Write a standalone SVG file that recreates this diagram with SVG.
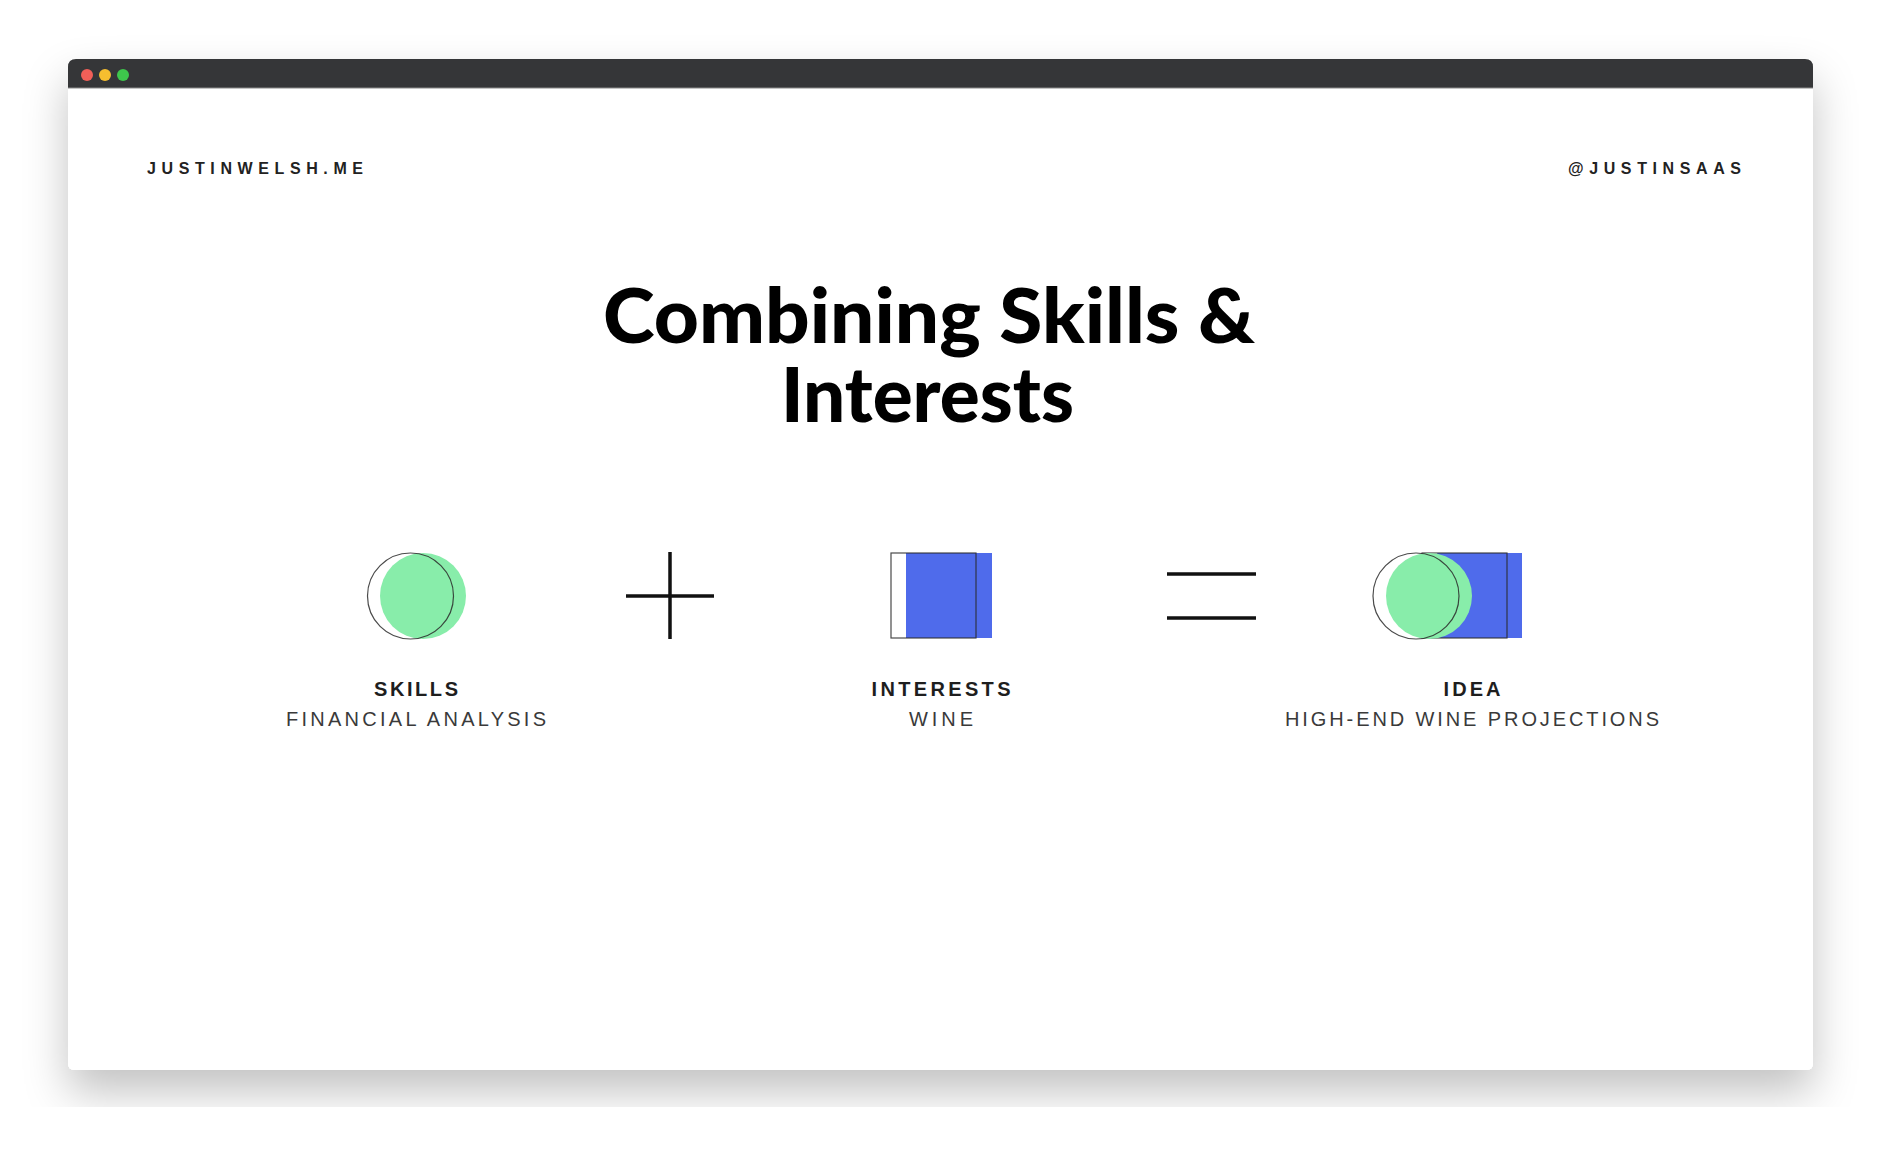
<svg xmlns="http://www.w3.org/2000/svg" width="1888" height="1152" viewBox="0 0 1888 1152">
  <defs>
    <filter id="shadow" x="-10%" y="-10%" width="120%" height="130%">
      <feDropShadow dx="0" dy="22" stdDeviation="22" flood-color="#000" flood-opacity="0.24"/>
    </filter>
    <clipPath id="pageClip">
      <rect x="0" y="0" width="1888" height="1107"/>
    </clipPath>
    <style>
      .hdr { font-family: "Liberation Sans", Arial, sans-serif; font-size: 16px; font-weight: bold; fill: #222; }
      .title { font-family: Lato, "Liberation Sans", sans-serif; font-size: 77px; font-weight: 900; fill: #000; }
      .lbl { font-family: "Liberation Sans", Arial, sans-serif; font-size: 20px; font-weight: bold; fill: #1e1e1e; }
      .sub { font-family: "Liberation Sans", Arial, sans-serif; font-size: 20px; fill: #3a3a3a; }
      .outline { fill: none; stroke: #2a2a2a; stroke-width: 1.2; stroke-opacity: 0.85; }
      .green { fill: #88EDAA; }
      .blue { fill: #4F6BEB; }
      .op { stroke: #111; stroke-width: 3.5; fill: none; }
    </style>
  </defs>

  <rect x="0" y="0" width="1888" height="1152" fill="#ffffff"/>

  <g id="window">
    <g clip-path="url(#pageClip)">
      <rect x="68" y="59" width="1745" height="1011" rx="6" fill="#ffffff" filter="url(#shadow)"/>
    </g>
    <rect x="68" y="59" width="1745" height="1011" rx="6" fill="#ffffff"/>
    <path d="M68,88 L68,67 Q68,59 76,59 L1805,59 Q1813,59 1813,67 L1813,88 Z" fill="#353638"/>
    <line x1="68" y1="88" x2="1813" y2="88" stroke="#8a8a8a" stroke-width="1"/>
    <circle cx="87" cy="75" r="6" fill="#F25F58"/>
    <circle cx="105" cy="75" r="6" fill="#F6BE2F"/>
    <circle cx="123" cy="75" r="6" fill="#3EC74C"/>
  </g>

  <g id="header">
    <text class="hdr" x="147" y="174" textLength="216" lengthAdjust="spacing">JUSTINWELSH.ME</text>
    <text class="hdr" x="1568" y="174" textLength="173" lengthAdjust="spacing">@JUSTINSAAS</text>
  </g>

  <g id="title">
    <text class="title"><tspan x="603" y="343" textLength="652" lengthAdjust="spacingAndGlyphs">Combining Skills &amp;</tspan><tspan x="781" y="422" textLength="293" lengthAdjust="spacingAndGlyphs">Interests</tspan></text>
  </g>

  <g id="skills">
    <circle class="green" cx="423" cy="596" r="43"/>
    <circle class="outline" cx="410.5" cy="596" r="43"/>
    <text class="lbl" x="416" y="696" text-anchor="middle" textLength="84" lengthAdjust="spacing">SKILLS</text>
    <text class="sub" x="416" y="726" text-anchor="middle" textLength="260" lengthAdjust="spacing">FINANCIAL ANALYSIS</text>
  </g>

  <g id="interests">
    <rect class="blue" x="906" y="553" width="86" height="85"/>
    <rect class="outline" x="891" y="553" width="85" height="85"/>
    <text class="lbl" x="941" y="696" text-anchor="middle" textLength="139" lengthAdjust="spacing">INTERESTS</text>
    <text class="sub" x="941" y="726" text-anchor="middle" textLength="64" lengthAdjust="spacing">WINE</text>
  </g>

  <g id="idea">
    <rect class="blue" x="1437" y="553" width="85" height="85"/>
    <rect class="outline" x="1422" y="553" width="85" height="85"/>
    <circle class="green" cx="1429" cy="596" r="43"/>
    <circle class="outline" cx="1416" cy="596" r="43"/>
    <text class="lbl" x="1472" y="696" text-anchor="middle" textLength="57" lengthAdjust="spacing">IDEA</text>
    <text class="sub" x="1472" y="726" text-anchor="middle" textLength="374" lengthAdjust="spacing">HIGH-END WINE PROJECTIONS</text>
  </g>

  <g id="connectors">
    <g id="plus">
      <line class="op" x1="670" y1="552" x2="670" y2="639"/>
      <line class="op" x1="626" y1="596" x2="714" y2="596"/>
    </g>
    <g id="equals">
      <line class="op" x1="1167" y1="574" x2="1256" y2="574" stroke-width="4"/>
      <line class="op" x1="1167" y1="618" x2="1256" y2="618" stroke-width="4"/>
    </g>
  </g>
</svg>
